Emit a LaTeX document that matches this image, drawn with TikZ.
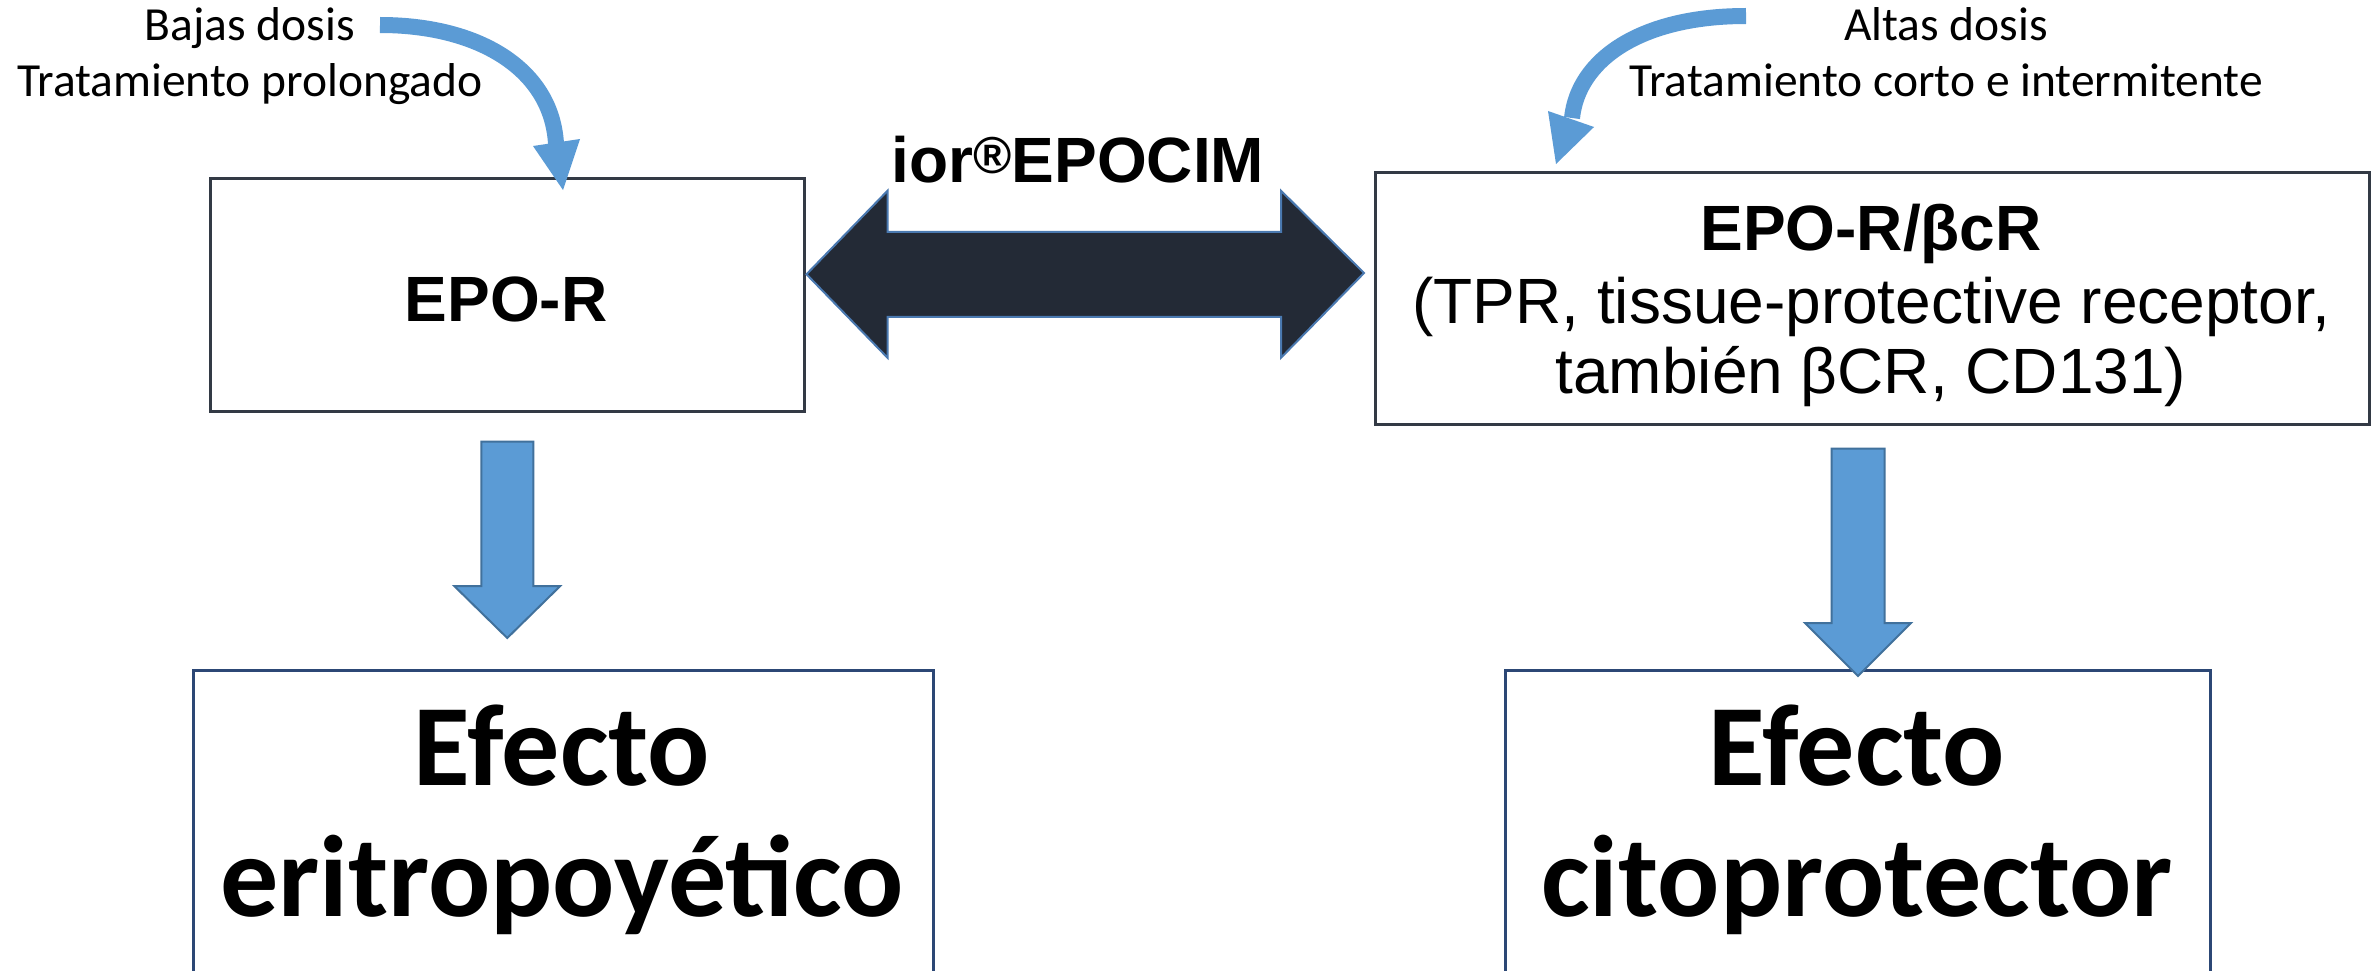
\documentclass[tikz,border=0pt]{standalone}
\usepackage{fontspec}
\setmainfont{Carlito}
\newfontfamily\arialf{Liberation Sans}
\usetikzlibrary{calc}
\definecolor{arrowblue}{HTML}{5B9BD5}
\definecolor{arrowedge}{HTML}{41719C}
\definecolor{darkfill}{HTML}{232A36}
\definecolor{darkedge}{HTML}{4A79B0}
\definecolor{boxgray}{HTML}{333A45}
\definecolor{boxnavy}{HTML}{2C4775}
\newcommand{\mkdownarrow}[5]{% start, tip, shaft half width, head half width, head length
  \path[blockarrow] let \p1=(#1), \p2=(#2) in
    (\x1-#3,\y1) -- (\x1+#3,\y1) -- (\x1+#3,\y2+#5) -- (\x1+#4,\y2+#5) -- (\x2,\y2)
    -- (\x1-#4,\y2+#5) -- (\x1-#3,\y2+#5) -- cycle;}
\begin{document}
\begin{tikzpicture}[x=1pt,y=-1pt,
  topbox/.style={draw=boxgray, line width=2.5pt, rectangle, anchor=north west, inner sep=0pt},
  botbox/.style={draw=boxnavy, line width=3pt, rectangle, anchor=north west, inner sep=0pt},
  dosetext/.style={font=\fontsize{47.5}{56}\selectfont, anchor=base, inner sep=0pt},
  armtext/.style={font=\arialf\fontsize{64}{70}\selectfont, anchor=base, inner sep=0pt},
  armbold/.style={font=\arialf\bfseries\fontsize{64}{70}\selectfont, anchor=base, inner sep=0pt},
  bigtext/.style={font=\bfseries\fontsize{116}{130}\selectfont, anchor=base, inner sep=0pt},
  blockarrow/.style={fill=arrowblue, draw=arrowedge, line width=2pt, line join=miter},
  duoarrow/.style={fill=darkfill, draw=darkedge, line width=2pt, line join=miter},
  bentshaft/.style={draw=arrowblue, line width=16pt},
  benthead/.style={fill=arrowblue},
]
\useasboundingbox (0,0) rectangle (2374,971);
\fill[white] (0,0) rectangle (2374,971);

% boxes
\node[topbox, minimum width=594pt, minimum height=233pt] (epor) at (209,177) {};
\node[topbox, minimum width=994pt, minimum height=252pt] (tpr) at (1374,171) {};
\node[botbox, minimum width=740pt, minimum height=360pt] (erit) at (192,669) {};
\node[botbox, minimum width=705pt, minimum height=360pt] (cito) at (1504,669) {};

% box texts
\node[armbold] (eportxt) at (506,321) {EPO-R};
\node[armbold] (tprt1) at (1871,250) {EPO-R/βcR};
\node[armtext] (tprt2) at (1871,323) {(TPR, tissue-protective receptor,};
\node[armtext] (tprt3) at (1871,393) {también βCR, CD131)};
\node[bigtext] (erit1) at (562,785) {Efecto};
\node[bigtext] (erit2) at (562,916) {eritropoyético};
\node[bigtext] (cito1) at (1857,785) {Efecto};
\node[bigtext] (cito2) at (1857,916) {citoprotector};

% dose texts
\node[dosetext] (low1) at (250,41) {Bajas dosis};
\node[dosetext] (low2) at (250,97) {Tratamiento prolongado};
\node[dosetext] (high1) at (1946,41) {Altas dosis};
\node[dosetext] (high2) at (1946,97) {Tratamiento corto e intermitente};

% drug label
\node[armbold] (drug) at (1078,182) {ior{\fontsize{52}{52}\selectfont\raisebox{9pt}{®}}EPOCIM};

% double arrow
\coordinate (dl) at ($(epor.east)+(1,-20.5)$);
\coordinate (dr) at (1364,273);
\path[duoarrow] let \p1=(dl), \p2=(dr) in
  (\x1,\y1) -- (\x1+81pt,\y1+83.5pt) -- (\x1+81pt,\y1+42.5pt) -- (\x2-83pt,\y1+42.5pt)
  -- (\x2-83pt,\y1+83.5pt) -- (\x2,\y2) -- (\x2-83pt,\y1-83.5pt) -- (\x2-83pt,\y1-42.5pt)
  -- (\x1+81pt,\y1-42.5pt) -- (\x1+81pt,\y1-83.5pt) -- cycle;

% down arrows
\coordinate (la1) at ($(epor.south)+(0,29)$);
\coordinate (la2) at ($(erit.north -| la1)+(0,-31)$);
\mkdownarrow{la1}{la2}{26pt}{53pt}{52pt}
\coordinate (ra1) at ($(tpr.south -| cito.north)+(0,23)$);
\coordinate (ra2) at ($(cito.north)+(0,7)$);
\mkdownarrow{ra1}{ra2}{26.5pt}{53pt}{53pt}

% curved arrows
\coordinate (lcs) at (380,25);
\coordinate (lce) at (556,144);
\draw[bentshaft] (lcs) .. controls (480,25) and (552,70) .. (lce);
\fill[benthead] (533,146) -- (580,139) -- (563,190) -- cycle;
\coordinate (rcs) at (1746,16);
\coordinate (rce) at (1572,118);
\draw[bentshaft] (rcs) .. controls (1640,16) and (1578,60) .. (rce);
\fill[benthead] (1548,111) -- (1594,127) -- (1556,164) -- cycle;
\end{tikzpicture}
\end{document}
